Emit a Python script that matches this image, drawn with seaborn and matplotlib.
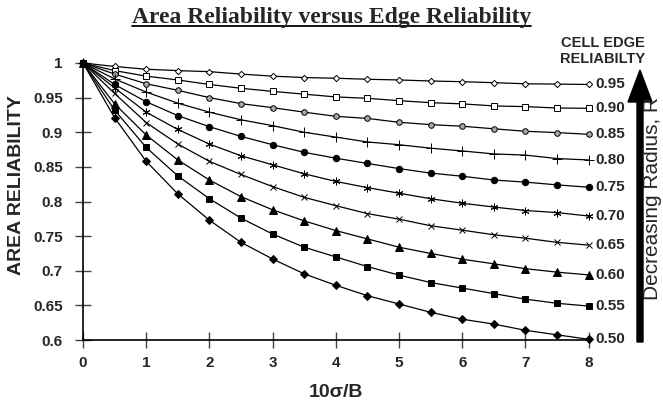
import numpy as np
import pandas as pd
import matplotlib
matplotlib.use("Agg")
import matplotlib.pyplot as plt
import seaborn as sns
from matplotlib.lines import Line2D
from matplotlib.patches import FancyArrow
from matplotlib.transforms import IdentityTransform

# ---------------- data ----------------
x_vals = [0, 0.5, 1, 1.5, 2, 2.5, 3, 3.5, 4, 4.5, 5, 5.5, 6, 6.5, 7, 7.5, 8]

edge_095 = [1.0, 0.995, 0.991, 0.989, 0.9875, 0.984, 0.981, 0.979, 0.978, 0.9765, 0.9755, 0.974, 0.973, 0.9716, 0.970, 0.9695, 0.969]
edge_090 = [1.0, 0.989, 0.981, 0.9755, 0.969, 0.9635, 0.959, 0.955, 0.951, 0.949, 0.9456, 0.9427, 0.941, 0.938, 0.937, 0.935, 0.9346]
edge_085 = [1.0, 0.984, 0.970, 0.9606, 0.950, 0.9413, 0.9355, 0.929, 0.923, 0.920, 0.9144, 0.911, 0.9087, 0.905, 0.9014, 0.8995, 0.897]
edge_080 = [1.0, 0.977, 0.958, 0.942, 0.929, 0.918, 0.9095, 0.900, 0.893, 0.886, 0.882, 0.877, 0.873, 0.8687, 0.867, 0.862, 0.860]
edge_075 = [1.0, 0.969, 0.944, 0.924, 0.908, 0.894, 0.882, 0.871, 0.8625, 0.855, 0.8475, 0.841, 0.8365, 0.831, 0.828, 0.824, 0.8206]
edge_070 = [1.0, 0.964, 0.929, 0.904, 0.883, 0.866, 0.853, 0.840, 0.829, 0.820, 0.812, 0.804, 0.7975, 0.792, 0.787, 0.784, 0.779]
edge_065 = [1.0, 0.956, 0.914, 0.883, 0.858, 0.839, 0.8215, 0.806, 0.794, 0.7825, 0.7745, 0.765, 0.7586, 0.752, 0.747, 0.741, 0.737]
edge_060 = [1.0, 0.941, 0.896, 0.860, 0.831, 0.807, 0.788, 0.772, 0.758, 0.746, 0.734, 0.725, 0.7167, 0.710, 0.703, 0.698, 0.694]
edge_055 = [1.0, 0.932, 0.878, 0.837, 0.804, 0.776, 0.753, 0.734, 0.720, 0.706, 0.6937, 0.683, 0.675, 0.667, 0.659, 0.653, 0.649]
edge_050 = [1.0, 0.921, 0.858, 0.811, 0.773, 0.741, 0.717, 0.6955, 0.679, 0.664, 0.652, 0.640, 0.630, 0.623, 0.614, 0.6075, 0.601]

edge_labels = ["0.95", "0.90", "0.85", "0.80", "0.75", "0.70", "0.65", "0.60", "0.55", "0.50"]
x_ticks = [0, 1, 2, 3, 4, 5, 6, 7, 8]
y_ticks = [0.6, 0.65, 0.7, 0.75, 0.8, 0.85, 0.9, 0.95, 1.0]
y_tick_labels = ["0.6", "0.65", "0.7", "0.75", "0.8", "0.85", "0.9", "0.95", "1"]

title_text = "Area Reliability versus Edge Reliability"
x_label = "10σ/B"
y_label = "AREA RELIABILITY"
legend_title = "CELL EDGE\nRELIABILTY"
arrow_text = "Decreasing Radius, R"

# ---------------- style ----------------
sns.set_style("ticks")
plt.rcParams["font.family"] = ["Liberation Sans", "DejaVu Sans"]

W, H = 663, 408
fig = plt.figure(figsize=(W / 100, H / 100), dpi=100)
ax = fig.add_axes([83 / W, 68 / H, 505.6 / W, 277 / H])

all_series = [edge_095, edge_090, edge_085, edge_080, edge_075,
              edge_070, edge_065, edge_060, edge_055, edge_050]
markers = ["D", "s", "o", "+", "o", (6, 2, 0), "x", "^", "s", "D"]
faces = ["white", "white", "#a8a8a8", "black", "black", "black", "black", "black", "black", "black"]
msizes = [3.2, 4.8, 4.0, 6.5, 4.6, 5.5, 5.0, 5.5, 5.0, 4.0]

for vals, m, fc, ms, lab in zip(all_series, markers, faces, msizes, edge_labels):
    df = pd.DataFrame({"x": x_vals, "y": vals})
    sns.lineplot(data=df, x="x", y="y", ax=ax, color="black", lw=0.9,
                 marker=m, markersize=ms, markerfacecolor=fc,
                 markeredgecolor="black", markeredgewidth=0.7,
                 clip_on=False, legend=False)
    ax.annotate(lab, xy=(x_vals[-1], vals[-1]), xytext=(5, 0),
                textcoords="offset points", ha="left", va="center",
                fontsize=11, fontweight="bold", annotation_clip=False)

ax.set_xlim(0, 8)
ax.set_ylim(0.6, 1.0)
ax.set_xticks(x_ticks)
ax.set_xticklabels([str(t) for t in x_ticks])
ax.set_yticks(y_ticks)
ax.set_yticklabels(y_tick_labels)
sns.despine(ax=ax)
for s in ["left", "bottom"]:
    ax.spines[s].set_linewidth(1.2)
    ax.spines[s].set_color("black")
ax.tick_params(axis="both", direction="inout", length=11, width=1.0,
               color="#444444", labelsize=11)
ax.tick_params(axis="y", pad=9)
ax.tick_params(axis="x", pad=6)
for t in ax.get_xticklabels() + ax.get_yticklabels():
    t.set_fontweight("bold")

ax.set_xlabel(x_label, fontsize=14, fontweight="bold")
ax.set_ylabel(y_label, fontsize=14, fontweight="bold")
ax.xaxis.set_label_coords(0.5, -0.16)
ax.yaxis.set_label_coords(-0.115, 0.56)

# title with underline
title = fig.text(0.5, 1 - 17 / H, title_text, ha="center", va="center",
                 family="Liberation Serif", fontweight="bold", fontsize=17)
fig.canvas.draw()
bb = title.get_window_extent()
fig.add_artist(Line2D([bb.x0, bb.x1], [bb.y0 + 1.5, bb.y0 + 1.5],
                      transform=IdentityTransform(), color="black", lw=1.3))

# legend-like header on the right
fig.text(603 / W, 1 - 51 / H, legend_title, ha="center", va="center",
         fontsize=10.5, fontweight="bold", linespacing=1.15)

# big arrow
fig.add_artist(FancyArrow(640, H - 342, 0, 272, width=6, head_width=24,
                          head_length=32, length_includes_head=True,
                          transform=IdentityTransform(), color="black"))
fig.text(652 / W, 1 - 198 / H, arrow_text, rotation=90, ha="center",
         va="center", fontsize=15)

fig.savefig("out.png", dpi=100)
